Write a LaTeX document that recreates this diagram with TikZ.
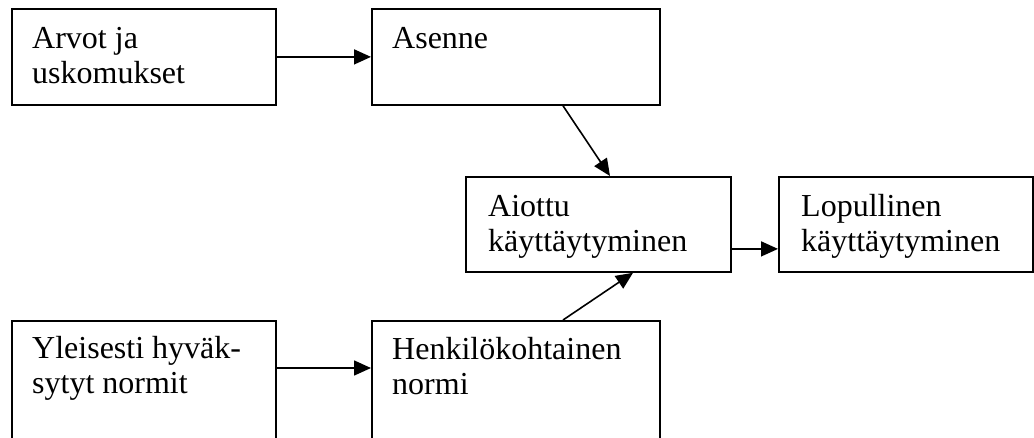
\documentclass[tikz,border=0pt]{standalone}
\usepackage{fontspec}
\setmainfont{Liberation Serif}
\usetikzlibrary{arrows.meta}
\newcommand\mylbl[1]{\begin{tabular}[t]{@{}l@{}}#1\end{tabular}}
\begin{document}
\begin{tikzpicture}[x=1pt,y=-1pt,
  box/.style={draw,line width=1.8pt,rectangle,inner sep=0pt,anchor=north west},
  txt/.style={inner sep=0pt,anchor=base west,font=\fontsize{32}{35}\selectfont},
  arr/.style={line width=1.6pt,-{Triangle[length=17pt,width=15pt]}}]
\useasboundingbox (0,0) rectangle (1034,437);
\clip (0,0) rectangle (1034,437);
\node[box,minimum width=264pt,minimum height=96pt] (b1) at (11,8) {};
\node[box,minimum width=288pt,minimum height=96pt] (b2) at (371,8) {};
\node[box,minimum width=265pt,minimum height=95pt] (b3) at (465,176) {};
\node[box,minimum width=254pt,minimum height=95pt] (b4) at (778,176) {};
\node[box,minimum width=264pt,minimum height=130pt] (b5) at (11,320) {};
\node[box,minimum width=288pt,minimum height=130pt] (b6) at (371,320) {};
\node[txt] (t1) at ([shift={(21pt,-40pt)}]b1.north west) {\mylbl{Arvot ja\\uskomukset}};
\node[txt] (t2) at ([shift={(21pt,-40pt)}]b2.north west) {\mylbl{Asenne}};
\node[txt] (t3) at ([shift={(23pt,-40pt)}]b3.north west) {\mylbl{Aiottu\\käyttäytyminen}};
\node[txt] (t4) at ([shift={(23pt,-40pt)}]b4.north west) {\mylbl{Lopullinen\\käyttäytyminen}};
\node[txt] (t5) at ([shift={(21pt,-38pt)}]b5.north west) {\mylbl{Yleisesti hyväk-\\sytyt normit}};
\node[txt] (t6) at ([shift={(21pt,-39pt)}]b6.north west) {\mylbl{Henkilökohtainen\\normi}};
\draw[arr] (b1.east) -- (b2.west);
\draw[arr] ([xshift=192pt]b2.south west) -- ([xshift=145pt]b3.north west);
\draw[arr] ([yshift=-24.5pt]b3.east) -- ([yshift=-24.5pt]b4.west);
\draw[arr] ([yshift=-48pt]b5.north east) -- ([yshift=-48pt]b6.north west);
\draw[arr] ([xshift=192pt]b6.north west) -- ([xshift=168pt]b3.south west);
\end{tikzpicture}
\end{document}
